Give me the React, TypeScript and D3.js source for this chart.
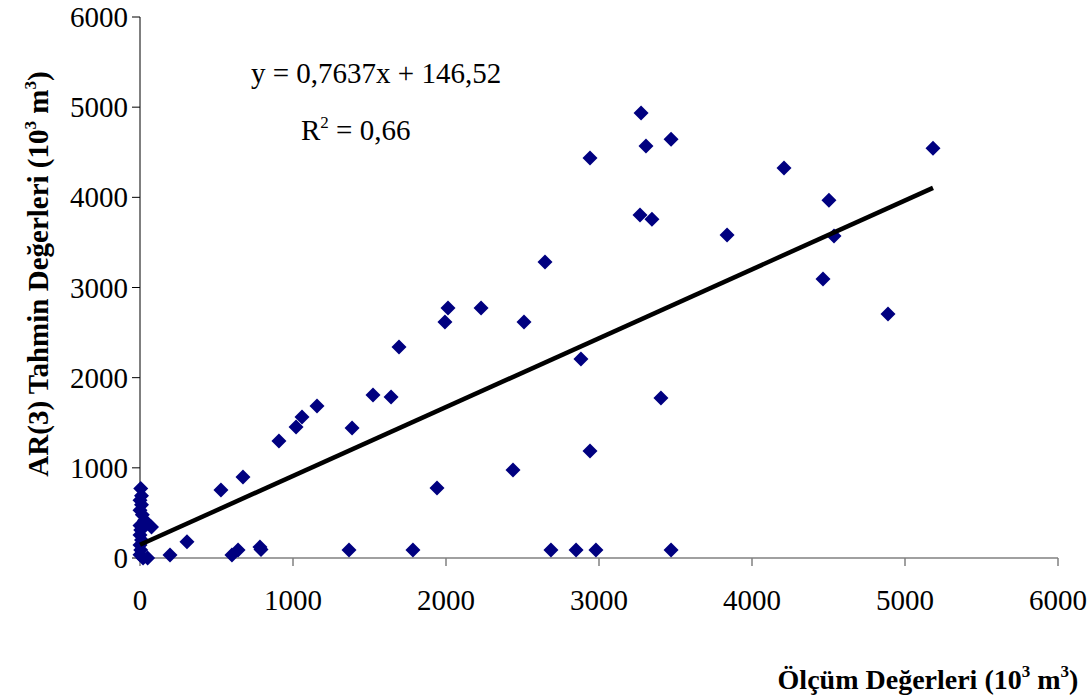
import React from "react";
import * as d3 from "d3";

// Measured vs. AR(3) predicted volumes (10^3 m^3)
const measured: number[] = [
  5, 10, 0, 10, 0, 15, 30, 75, 0, 5, 0, 10, 0, 5, 0, 20, 50,
  196, 307, 601, 641, 784, 791, 1366, 1784, 2686, 2850, 2980, 3471,
  529, 673, 908, 1020, 1059, 1157, 1386, 1523, 1641, 1693, 1941, 1993,
  2013, 2229, 2438, 2510, 2647, 2882, 2941, 2941, 3268, 3275, 3307, 3346,
  3405, 3471, 3837, 4209, 4464, 4503, 4536, 4889, 5183,
];
const predicted: number[] = [
  770, 690, 640, 590, 530, 480, 420, 345, 360, 310, 255, 200, 145, 90, 35, 0, 0,
  33, 180, 33, 89, 122, 95, 89, 89, 89, 89, 89, 89,
  754, 898, 1297, 1452, 1563, 1685, 1441, 1807, 1785, 2339, 776, 2616,
  2772, 2772, 976, 2616, 3282, 2206, 1186, 4435, 3803, 4934, 4568, 3758,
  1774, 4645, 3581, 4324, 3093, 3969, 3570, 2705, 4545,
];

const xTicks: number[] = [0, 1000, 2000, 3000, 4000, 5000, 6000];
const yTicks: number[] = [0, 1000, 2000, 3000, 4000, 5000, 6000];

// Linear fit reported on the chart
const slope = 0.7637;
const intercept = 146.52;
const rSquared = "0,66";

const W = 1092;
const H = 697;
const FONT = "'Liberation Serif', 'Times New Roman', serif";
const NAVY = "#000080";
const FS = 29;
const SUP = 17;
const LIFT = 12;

export default function App() {
  const x = d3.scaleLinear().domain([0, 6000]).range([140, 1058]);
  const y = d3.scaleLinear().domain([0, 6000]).range([558, 17]);

  const xMaxData = d3.max(measured) as number;
  const fitLine = d3.line<number>()
    .x((d) => x(d))
    .y((d) => y(slope * d + intercept));

  const diamond = (cx: number, cy: number) => {
    const r = 7.5;
    return `M${cx},${cy - r}L${cx + r},${cy}L${cx},${cy + r}L${cx - r},${cy}Z`;
  };

  // "(10³ m³)" unit label with raised exponents
  const unit = (
    <>
      <tspan> (10</tspan>
      <tspan dy={-LIFT} fontSize={SUP}>3</tspan>
      <tspan dy={LIFT}> m</tspan>
      <tspan dy={-LIFT} fontSize={SUP}>3</tspan>
      <tspan dy={LIFT}>)</tspan>
    </>
  );

  return (
    <div style={{ position: "absolute", left: 0, top: 0 }}>
      <svg width={W} height={H} style={{ display: "block", background: "#fff" }} fontFamily={FONT}>
        {/* axes */}
        <line x1={x(0)} x2={x(0)} y1={y(0)} y2={y(6000)} stroke="#000" strokeWidth={1} />
        <line x1={x(0)} x2={x(6000)} y1={y(0)} y2={y(0)} stroke="#808080" strokeWidth={1.5} />
        {yTicks.map((t) => (
          <g key={"y" + t}>
            <line x1={x(0) - 8} x2={x(0)} y1={y(t)} y2={y(t)} stroke="#000" strokeWidth={1} />
            <text x={x(0) - 12} y={y(t)} dy="0.35em" textAnchor="end" fontSize={FS}>
              {t}
            </text>
          </g>
        ))}
        {xTicks.map((t) => (
          <g key={"x" + t}>
            <line x1={x(t)} x2={x(t)} y1={y(0)} y2={y(0) + 8} stroke="#808080" strokeWidth={1.5} />
            <text x={x(t)} y={y(0) + 52} textAnchor="middle" fontSize={FS}>
              {t}
            </text>
          </g>
        ))}

        {/* points */}
        {measured.map((m, i) => (
          <path key={i} d={diamond(x(m), y(predicted[i]))} fill={NAVY} />
        ))}

        {/* fitted trend line */}
        <path d={fitLine([0, xMaxData]) as string} stroke="#000" strokeWidth={4.5} fill="none" />

        {/* equation */}
        <text x={251} y={83} fontSize={FS}>
          {`y = ${String(slope).replace(".", ",")}x + ${String(intercept).replace(".", ",")}`}
        </text>
        <text x={301} y={140} fontSize={FS}>
          <tspan>R</tspan>
          <tspan dy={-LIFT} fontSize={SUP}>2</tspan>
          <tspan dy={LIFT}>{` = ${rSquared}`}</tspan>
        </text>

        {/* axis titles */}
        <text
          transform={`translate(48,274) rotate(-90)`}
          textAnchor="middle"
          fontSize={FS}
          fontWeight="bold"
        >
          <tspan>AR(3) Tahmin Değerleri</tspan>
          {unit}
        </text>
        <text x={928} y={689} textAnchor="middle" fontSize={28} fontWeight="bold">
          <tspan>Ölçüm Değerleri</tspan>
          {unit}
        </text>
      </svg>
    </div>
  );
}
